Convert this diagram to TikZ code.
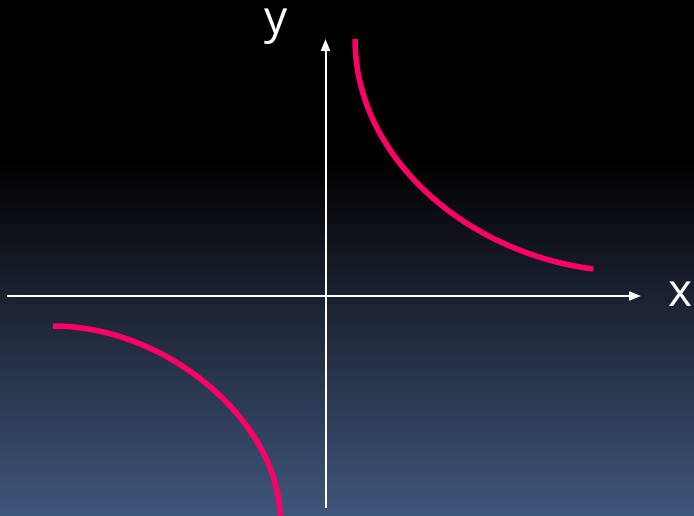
\documentclass[tikz,border=0pt]{standalone}
\usepackage{fontspec}
\setmainfont{Open Sans}
\usetikzlibrary{arrows.meta}
\definecolor{bgmid}{HTML}{1A2130}
\definecolor{bgbot}{HTML}{3F567B}
\definecolor{curvepink}{HTML}{FF0066}
\begin{document}
\begin{tikzpicture}[x=1pt,y=-1pt,
  axis/.style={draw=white,line width=2pt,-{Triangle[length=12pt,width=9pt]}},
  curve/.style={draw=curvepink,line width=5.5pt},
  lab/.style={text=white,font=\fontsize{46}{50}\selectfont,anchor=base,inner sep=0pt}]
\useasboundingbox (0,0) rectangle (694,516);
% background
\fill[black] (0,0) rectangle (694,161);
\shade[top color=black,bottom color=bgmid] (0,160) rectangle (694,296);
\shade[top color=bgmid,bottom color=bgbot] (0,295.5) rectangle (694,516);
% axes
\coordinate (xl) at (7,296);
\coordinate (xr) at (641,296);
\coordinate (yb) at (325.5,508);
\coordinate (yt) at (325.5,39);
\draw[axis] (xl) -- (xr);
\draw[axis] (yb) -- (yt);
\node[lab] (xlab) at (681,306.5) {x};
\node[lab] (ylab) at (276,34) {y};
% curves
\coordinate (ua) at (355,39);
\coordinate (ub) at (593,269);
\coordinate (la) at (53,326);
\coordinate (lb) at (280,518);
\draw[curve] (ua) .. controls (355,159) and (468,252.8) .. (ub);
\draw[curve] (la) .. controls (168,326) and (280,423) .. (lb);
\end{tikzpicture}
\end{document}
